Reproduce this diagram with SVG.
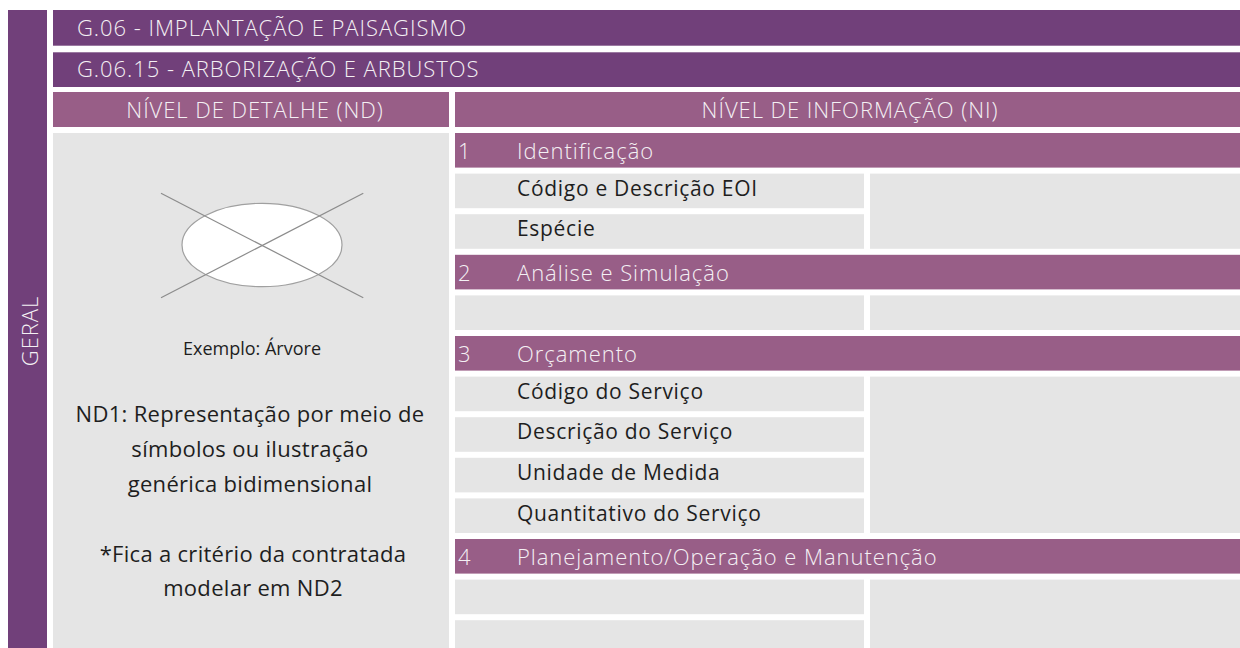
<svg xmlns="http://www.w3.org/2000/svg" width="1240" height="648" viewBox="0 0 1240 648">
<style>
.dark{fill:#71407A}
.mid{fill:#985E87}
.gray{fill:#E5E5E5}
.ht{font-family:"Open Sans",Lato,sans-serif;font-weight:300;font-size:22px;letter-spacing:0.95px;fill:#F4F0F4}
.bt{font-family:"Open Sans",Lato,sans-serif;font-weight:400;font-size:21px;letter-spacing:0.7px;fill:#1E1E1E}
.lt{font-family:"Open Sans",Lato,sans-serif;font-weight:400;font-size:22px;letter-spacing:0.3px;fill:#1E1E1E;text-anchor:middle}
.sm{font-size:18px;letter-spacing:0px}
.sym{stroke:#8C8C8C;stroke-width:1.2;fill:none}
</style>
<rect width="1240" height="648" fill="#FFFFFF"/>
<g id="side">
<rect class="dark" x="8" y="10" width="39" height="638"/>
<text class="ht" transform="translate(37.5,331) rotate(-90)" text-anchor="middle">GERAL</text>
</g>
<g id="header1">
<rect class="dark" x="53" y="10" width="1187" height="35.7"/>
<text class="ht" x="77" y="35.7">G.06 - IMPLANTAÇÃO E PAISAGISMO</text>
</g>
<g id="header2">
<rect class="dark" x="53" y="52.3" width="1187" height="34.7"/>
<text class="ht" x="77" y="77.3">G.06.15 - ARBORIZAÇÃO E ARBUSTOS</text>
</g>
<g id="nd-header">
<rect class="mid" x="53" y="92" width="396" height="35"/>
<text class="ht" x="255" y="118.3" text-anchor="middle">NÍVEL DE DETALHE (ND)</text>
</g>
<g id="ni-header">
<rect class="mid" x="455" y="92" width="785" height="35"/>
<text class="ht" x="850" y="118.3" text-anchor="middle">NÍVEL DE INFORMAÇÃO (NI)</text>
</g>
<g id="nd-panel">
<rect class="gray" x="53" y="133" width="396" height="515"/>
<ellipse cx="262" cy="245" rx="80" ry="41.7" fill="#FFFFFF" stroke="#A0A0A0" stroke-width="1.2"/>
<line class="sym" x1="161" y1="193.3" x2="363.3" y2="297.7"/>
<line class="sym" x1="161" y1="297.7" x2="363.3" y2="193.3"/>
<text class="lt sm" x="252" y="355">Exemplo: Árvore</text>
<text class="lt" x="250" y="421.7">ND1: Representação por meio de</text>
<text class="lt" x="250" y="456.7">símbolos ou ilustração</text>
<text class="lt" x="250" y="491.7">genérica bidimensional</text>
<text class="lt" x="253" y="561.7">*Fica a critério da contratada</text>
<text class="lt" x="253" y="596">modelar em ND2</text>
</g>
<g id="sec1">
<rect class="mid" x="455" y="133" width="785" height="34.6"/>
<text class="ht" x="458" y="159">1</text>
<text class="ht" x="517" y="159">Identificação</text>
</g>
<g id="sec1-rows">
<rect class="gray" x="455" y="173.6" width="409" height="34.6"/>
<text class="bt" x="517" y="195.7">Código e Descrição EOI</text>
<rect class="gray" x="455" y="214.2" width="409" height="34.6"/>
<text class="bt" x="517" y="236.3">Espécie</text>
<rect class="gray" x="870" y="173.6" width="370" height="75.2"/>
</g>
<g id="sec2">
<rect class="mid" x="455" y="254.8" width="785" height="34.6"/>
<text class="ht" x="458" y="280.8">2</text>
<text class="ht" x="517" y="280.8">Análise e Simulação</text>
</g>
<g id="sec2-rows">
<rect class="gray" x="455" y="295.4" width="409" height="34.6"/>
<rect class="gray" x="870" y="295.4" width="370" height="34.6"/>
</g>
<g id="sec3">
<rect class="mid" x="455" y="336" width="785" height="34.6"/>
<text class="ht" x="458" y="362">3</text>
<text class="ht" x="517" y="362">Orçamento</text>
</g>
<g id="sec3-rows">
<rect class="gray" x="455" y="376.6" width="409" height="34.6"/>
<text class="bt" x="517" y="398.7">Código do Serviço</text>
<rect class="gray" x="455" y="417.2" width="409" height="34.6"/>
<text class="bt" x="517" y="439.3">Descrição do Serviço</text>
<rect class="gray" x="455" y="457.8" width="409" height="34.6"/>
<text class="bt" x="517" y="479.9">Unidade de Medida</text>
<rect class="gray" x="455" y="498.4" width="409" height="34.6"/>
<text class="bt" x="517" y="520.5">Quantitativo do Serviço</text>
<rect class="gray" x="870" y="376.6" width="370" height="156.4"/>
</g>
<g id="sec4">
<rect class="mid" x="455" y="539" width="785" height="34.6"/>
<text class="ht" x="458" y="565">4</text>
<text class="ht" x="517" y="565">Planejamento/Operação e Manutenção</text>
</g>
<g id="sec4-rows">
<rect class="gray" x="455" y="579.6" width="409" height="34.6"/>
<rect class="gray" x="455" y="620.2" width="409" height="34.6"/>
<rect class="gray" x="870" y="579.6" width="370" height="75"/>
</g>
<g id="connectors"></g>
</svg>
